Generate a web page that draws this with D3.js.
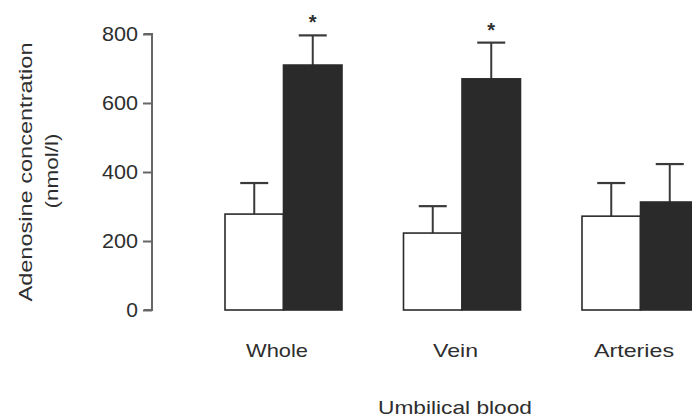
<!DOCTYPE html>
<html>
<head>
<meta charset="utf-8">
<script src="https://cdn.jsdelivr.net/npm/d3@7"></script>
<style>
  html, body { margin: 0; padding: 0; background: #fff; }
  svg { display: block; }
  text { font-family: "Liberation Sans", Arial, Helvetica, sans-serif; fill: #2e2e2e; }
</style>
</head>
<body>
<script>
const categories = ["Whole", "Vein", "Arteries"];
const seriesNames = ["control", "treated"];
const controlMeans = [278, 223, 272];
const controlErrors = [90, 78, 96];
const treatedMeans = [710, 670, 313];
const treatedErrors = [86, 105, 110];
const significant = [true, true, false];
const yTicks = [0, 200, 400, 600, 800];
const yTitle = ["Adenosine concentration", "(nmol/l)"];
const xTitle = "Umbilical blood";

const W = 692, H = 418;
const svg = d3.select("body").append("svg").attr("width", W).attr("height", H);

const y = d3.scaleLinear().domain([0, 800]).range([310, 34]);
const xGroup = d3.scalePoint().domain(categories).range([283, 640]);
const xSub = d3.scaleBand().domain(seriesNames).range([-58, 59]).paddingInner(0);

const rows = [];
categories.forEach((c, i) => {
  rows.push({cat: c, s: "control", v: controlMeans[i], e: controlErrors[i], sig: false});
  rows.push({cat: c, s: "treated", v: treatedMeans[i], e: treatedErrors[i], sig: significant[i]});
});

// error bars (drawn first so bars cover the stem base)
const eb = svg.append("g");
rows.forEach(d => {
  const cx = xGroup(d.cat) + xSub(d.s) + xSub.bandwidth() / 2;
  eb.append("line").attr("x1", cx).attr("x2", cx)
    .attr("y1", y(d.v)).attr("y2", y(d.v + d.e))
    .attr("stroke", "#3a3a3a").attr("stroke-width", 2);
  eb.append("line").attr("x1", cx - 14).attr("x2", cx + 14)
    .attr("y1", y(d.v + d.e)).attr("y2", y(d.v + d.e))
    .attr("stroke", "#3a3a3a").attr("stroke-width", 2.2);
  if (d.sig) {
    svg.append("text").attr("x", cx).attr("y", y(d.v + d.e) - 6)
      .attr("text-anchor", "middle").style("font-size", "20px").style("font-weight", "bold")
      .text("*");
  }
});

// bars
svg.append("g").selectAll("rect").data(rows).join("rect")
  .attr("x", d => xGroup(d.cat) + xSub(d.s))
  .attr("width", xSub.bandwidth())
  .attr("y", d => y(d.v))
  .attr("height", d => y(0) - y(d.v))
  .attr("fill", d => d.s === "control" ? "#ffffff" : "#2a2a2a")
  .attr("stroke", "#2a2a2a")
  .attr("stroke-width", 1.6);

// y axis
const axis = d3.axisLeft(y).tickValues(yTicks).tickSize(9).tickPadding(5).tickFormat(d3.format("d"));
const ag = svg.append("g").attr("transform", "translate(152,0)").call(axis);
ag.select(".domain").attr("stroke", "#666").attr("stroke-width", 2).attr("d", `M-8,${y(800)}H0V${y(0)}H-8`);
ag.selectAll(".tick line").attr("stroke", "#666").attr("stroke-width", 2);
ag.selectAll(".tick text").style("font-size", "21px").style("fill", "#2e2e2e")
  .attr("textLength", 36).attr("lengthAdjust", "spacingAndGlyphs");
ag.selectAll(".tick").filter(d => d === 0).select("text").attr("textLength", null);

// category labels
const catWidths = {"Whole": 62, "Vein": 45, "Arteries": 80};
svg.append("g").selectAll("text").data(categories).join("text")
  .attr("x", d => xGroup(d) - 6)
  .attr("y", 357)
  .attr("text-anchor", "middle")
  .style("font-size", "19px")
  .attr("textLength", d => catWidths[d]).attr("lengthAdjust", "spacingAndGlyphs")
  .text(d => d);

// x title
svg.append("text").attr("x", 455).attr("y", 414).attr("text-anchor", "middle")
  .style("font-size", "19px").attr("textLength", 154).attr("lengthAdjust", "spacingAndGlyphs")
  .text(xTitle);

// y title
svg.append("text").attr("transform", "translate(32,172) rotate(-90)")
  .attr("text-anchor", "middle").style("font-size", "19px")
  .attr("textLength", 259).attr("lengthAdjust", "spacingAndGlyphs")
  .text(yTitle[0]);
svg.append("text").attr("transform", "translate(58,171) rotate(-90)")
  .attr("text-anchor", "middle").style("font-size", "19px")
  .attr("textLength", 75).attr("lengthAdjust", "spacingAndGlyphs")
  .text(yTitle[1]);
</script>
</body>
</html>
